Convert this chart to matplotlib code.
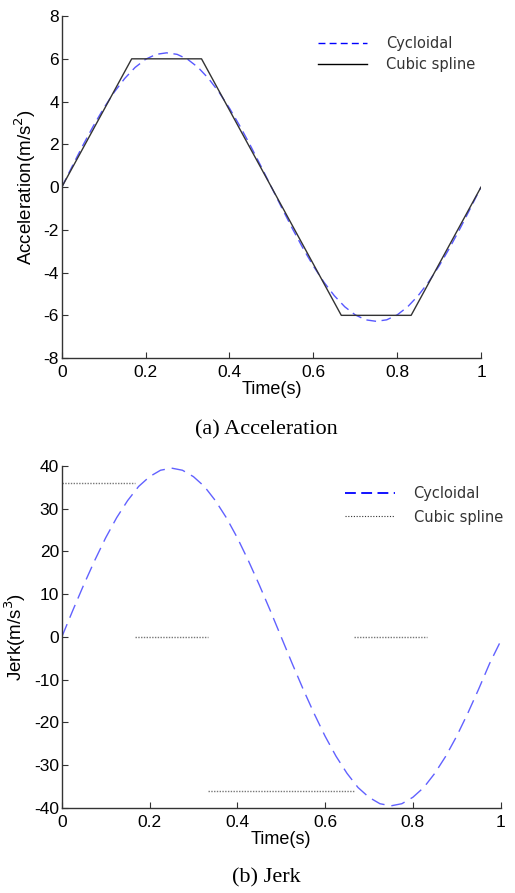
import numpy as np
import matplotlib
matplotlib.use("Agg")
import matplotlib.pyplot as plt

# ---- data ----
t_cyc = [0.000, 0.025, 0.050, 0.075, 0.100, 0.125, 0.150, 0.175, 0.200, 0.225,
         0.250, 0.275, 0.300, 0.325, 0.350, 0.375, 0.400, 0.425, 0.450, 0.475,
         0.500, 0.525, 0.550, 0.575, 0.600, 0.625, 0.650, 0.675, 0.700, 0.725,
         0.750, 0.775, 0.800, 0.825, 0.850, 0.875, 0.900, 0.925, 0.950, 0.975, 1.000]
acc_cyc = [0.00, 0.98, 1.94, 2.85, 3.69, 4.44, 5.08, 5.60, 5.98, 6.21,
           6.28, 6.21, 5.98, 5.60, 5.08, 4.44, 3.69, 2.85, 1.94, 0.98,
           0.00, -0.98, -1.94, -2.85, -3.69, -4.44, -5.08, -5.60, -5.98, -6.21,
           -6.28, -6.21, -5.98, -5.60, -5.08, -4.44, -3.69, -2.85, -1.94, -0.98, 0.00]
jerk_cyc = [0.0, 6.2, 12.2, 17.9, 23.2, 27.9, 31.9, 35.2, 37.5, 39.0,
            39.5, 39.0, 37.5, 35.2, 31.9, 27.9, 23.2, 17.9, 12.2, 6.2,
            0.0, -6.2, -12.2, -17.9, -23.2, -27.9, -31.9, -35.2, -37.5, -39.0,
            -39.5, -39.0, -37.5, -35.2, -31.9, -27.9, -23.2, -17.9, -12.2, -6.2, -1.0]

t_spl = [0.0, 0.1667, 0.3333, 0.6667, 0.8333, 1.0]
acc_spl = [0.0, 6.0, 6.0, -6.0, -6.0, 0.0]

# jerk of cubic spline: piecewise constant segments (gaps as NaN)
t_jerk_spl = [0.0, 0.1667, np.nan, 0.1667, 0.3333, np.nan, 0.3333, 0.6667, np.nan, 0.6667, 0.8333]
jerk_spl = [36.0, 36.0, np.nan, 0.0, 0.0, np.nan, -36.0, -36.0, np.nan, 0.0, 0.0]

x_ticks = [0, 0.2, 0.4, 0.6, 0.8, 1]
x_ticklabels = ["0", "0.2", "0.4", "0.6", "0.8", "1"]
acc_ticks = [-8, -6, -4, -2, 0, 2, 4, 6, 8]
jerk_ticks = [-40, -30, -20, -10, 0, 10, 20, 30, 40]

plt.rcParams['font.family'] = ['Liberation Sans', 'DejaVu Sans']
plt.rcParams['axes.unicode_minus'] = False

fig = plt.figure(figsize=(5.15, 8.93), dpi=100)

TICK = 12.5
XLAB = 13
YLAB = 13.5

def style(ax):
    for s in ['top', 'right']:
        ax.spines[s].set_visible(False)
    for s in ['left', 'bottom']:
        ax.spines[s].set_color('#333333')
        ax.spines[s].set_linewidth(1.0)
    ax.tick_params(direction='in', length=4, width=0.8, color='#333333',
                   labelsize=TICK, labelcolor='black')
    ax.tick_params(axis='x', pad=5)
    ax.tick_params(axis='y', pad=2)

leg_kw = dict(loc='upper left', frameon=False,
              prop={'family': 'DejaVu Sans', 'size': 10.5},
              handlelength=3.4, handletextpad=1.3, borderpad=0,
              borderaxespad=0, labelcolor='#333333')

# ---- top: acceleration ----
ax1 = fig.add_axes([0.120, 0.599, 0.814, 0.383])
style(ax1)
ax1.plot(t_cyc, acc_cyc, color='#3a3aff', alpha=0.85, lw=1.0, dashes=(7, 4))
ax1.plot(t_spl, acc_spl, color='#333333', lw=1.0)
ax1.set_xlim(0, 1)
ax1.set_ylim(-8, 8)
ax1.set_xticks(x_ticks)
ax1.set_xticklabels(x_ticklabels)
ax1.set_yticks(acc_ticks)
ax1.set_xlabel('Time(s)', fontsize=XLAB, labelpad=1)
ax1.set_ylabel('Acceleration(m/s$^2$)', fontsize=YLAB, labelpad=4)
h1 = [plt.Line2D([], [], color='blue', lw=1.0, dashes=(5, 3)),
      plt.Line2D([], [], color='black', lw=1.0)]
fig.legend(h1, ['Cycloidal', 'Cubic spline'], bbox_to_anchor=(0.617, 0.960),
           labelspacing=0.45, **leg_kw)

fig.text(0.518, 0.519, '(a) Acceleration', ha='center', va='center',
         fontsize=16, family='Liberation Serif')

# ---- bottom: jerk ----
ax2 = fig.add_axes([0.120, 0.0952, 0.852, 0.383])
style(ax2)
ax2.plot(t_cyc, jerk_cyc, color='#3a3aff', alpha=0.8, lw=1.0, dashes=(10, 5))
ax2.plot(t_jerk_spl, jerk_spl, color='#777777', lw=1.0, linestyle=(0, (1, 1)))
ax2.set_xlim(0, 1)
ax2.set_ylim(-40, 40)
ax2.set_xticks(x_ticks)
ax2.set_xticklabels(x_ticklabels)
ax2.set_yticks(jerk_ticks)
ax2.set_xlabel('Time(s)', fontsize=XLAB, labelpad=1)
ax2.set_ylabel('Jerk(m/s$^3$)', fontsize=YLAB, labelpad=4)
h2 = [plt.Line2D([], [], color='blue', lw=1.3, dashes=(6, 3)),
      plt.Line2D([], [], color='#333333', lw=0.8, linestyle=(0, (1, 1.5)))]
fig.legend(h2, ['Cycloidal', 'Cubic spline'], bbox_to_anchor=(0.670, 0.456),
           labelspacing=0.6, **leg_kw)

fig.text(0.518, 0.017, '(b) Jerk', ha='center', va='center',
         fontsize=16, family='Liberation Serif')

fig.savefig('out.png', dpi=100)
